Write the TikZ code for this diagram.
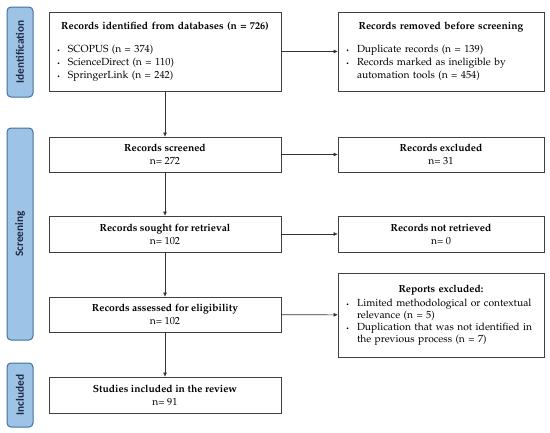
\documentclass[tikz,border=0pt]{standalone}
\usepackage{fontspec}
\usepackage[T1]{fontenc}
\usepackage{mathpazo}
\newfontfamily\sidefont{Carlito}[BoldFont={Carlito Bold}]
\usetikzlibrary{arrows.meta,positioning}
\definecolor{phasefill}{HTML}{9DC3E6}
\definecolor{phaseline}{HTML}{41719C}
\definecolor{phasetext}{HTML}{1F2A44}
\definecolor{boxline}{HTML}{404040}
\newcommand{\bul}{\makebox[13pt][l]{\hspace{2pt}\tiny\textbullet}}
\tikzset{
  phase/.style={draw=phaseline, fill=phasefill, rounded corners=4pt, line width=1pt,
    rotate=90, minimum height=26, inner sep=0pt,
    font=\sidefont\bfseries\fontsize{11.3}{13}\selectfont, text=phasetext},
  stage/.style={draw=boxline, line width=0.9pt, minimum width=232, inner sep=6pt,
    align=center, font=\fontsize{10.3}{13}\selectfont},
  sidestage/.style={stage, minimum width=206},
  link/.style={-{Triangle[length=4pt,width=3.5pt]}, line width=0.6pt, color=black!80},
}
\begin{document}
\begin{tikzpicture}[x=1pt,y=-1pt]
  \useasboundingbox (0,0) rectangle (550,432);
  % phases
  \node[phase, minimum width=90] (pid) at (20,52) {Identification};
  \node[phase, minimum width=212] (pscr) at (20,234) {Screening};
  \node[phase, minimum width=64] (pinc) at (20,395) {Included};
  % main column
  \node[stage, minimum height=79, text width=220, align=left] (ident) at (165,51.5)
    {\makebox[\linewidth]{\textbf{Records identified from databases (n = 726)}}\\[10pt]
     \bul SCOPUS (n = 374)\\ \bul ScienceDirect (n = 110)\\ \bul SpringerLink (n = 242)};
  \node[stage, minimum height=35] (scr) at (165,154.5)
    {\textbf{Records screened}\\ n= 272};
  \node[stage, minimum height=36] (sought) at (165,234)
    {\textbf{Records sought for retrieval}\\ n= 102};
  \node[stage, minimum height=35] (elig) at (165,314.5)
    {\textbf{Records assessed for eligibility}\\ n= 102};
  \node[stage, minimum height=36] (incl) at (165,395)
    {\textbf{Studies included in the review}\\ n= 91};
  % side column
  \node[sidestage, minimum height=79, text width=194, align=left] (removed) at (441,51.5)
    {\makebox[\linewidth]{\textbf{Records removed before screening}}\\[10pt]
     \bul Duplicate records (n = 139)\\ \bul Records marked as ineligible by\\
     \hspace*{13pt}automation tools (n = 454)};
  \node[sidestage, minimum height=35] (excl) at (441,154.5)
    {\textbf{Records excluded}\\ n= 31};
  \node[sidestage, minimum height=36] (notret) at (441,234)
    {\textbf{Records not retrieved}\\ n= 0};
  \node[sidestage, minimum height=84, text width=194, align=left] (reports) at (441,315)
    {\makebox[\linewidth]{\textbf{Reports excluded:}}\\[1pt]
     \bul Limited methodological or contextual\\[-1pt] \hspace*{13pt}relevance (n = 5)\\[-1pt]
     \bul Duplication that was not identified in\\[-1pt] \hspace*{13pt}the previous process (n = 7)};
  % connectors
  \draw[link] (ident) -- (scr);
  \draw[link] (scr) -- (sought);
  \draw[link] (sought) -- (elig);
  \draw[link] (elig) -- (incl);
  \draw[link] (ident) -- (removed);
  \draw[link] (scr) -- (excl);
  \draw[link] (sought) -- (notret);
  \draw[link] (elig) -- (reports);
\end{tikzpicture}
\end{document}
